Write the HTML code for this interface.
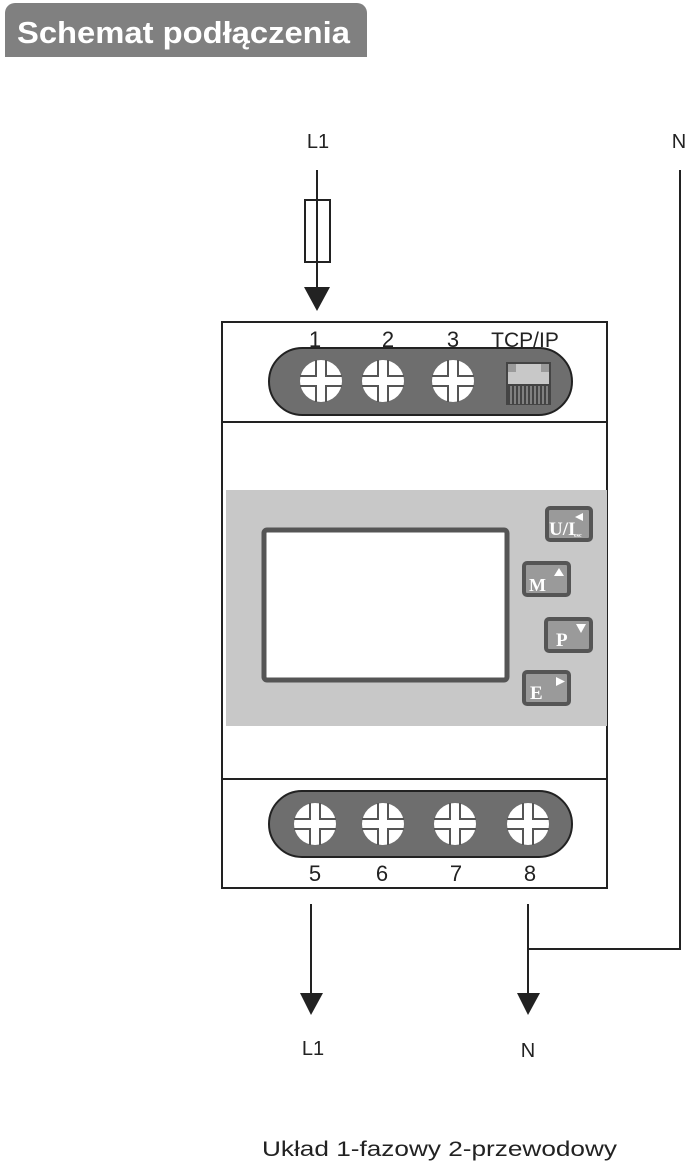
<!DOCTYPE html>
<html><head><meta charset="utf-8"><style>body{margin:0;background:#fff}svg{display:block}</style></head><body>
<svg width="700" height="1170" viewBox="0 0 700 1170" xmlns="http://www.w3.org/2000/svg" font-family="Liberation Sans, sans-serif">
<defs>
<g id="sc">
<circle r="21" fill="#fff"/>
<path d="M5,-21V-5H21M-5,-21V-5H-21M5,21V5H21M-5,21V5H-21" fill="none" stroke="#555" stroke-width="2"/>
</g>
</defs>
<path d="M5,57V13a10,10 0 0 1 10,-10H357a10,10 0 0 1 10,10V57Z" fill="#808080"/>
<text x="17" y="43" font-size="31" font-weight="bold" fill="#fff" textLength="333" lengthAdjust="spacingAndGlyphs">Schemat podłączenia</text>

<text x="318" y="148" font-size="20" text-anchor="middle" fill="#222">L1</text>
<text x="679" y="148" font-size="20" text-anchor="middle" fill="#222">N</text>
<line x1="317" y1="170" x2="317" y2="290" stroke="#222" stroke-width="2"/>
<rect x="305" y="200" width="25" height="62" fill="none" stroke="#222" stroke-width="2"/>
<polygon points="304,287 330,287 317,311" fill="#222"/>
<polyline points="680,170 680,949 528,949" fill="none" stroke="#222" stroke-width="2"/>

<rect x="222" y="322" width="385" height="566" fill="#fff" stroke="#222" stroke-width="2"/>
<line x1="222" y1="422" x2="607" y2="422" stroke="#222" stroke-width="2"/>
<line x1="222" y1="779" x2="607" y2="779" stroke="#222" stroke-width="2"/>
<rect x="226" y="490" width="381" height="236" fill="#c8c8c8"/>
<rect x="264" y="530" width="243" height="150" fill="#fff" stroke="#555" stroke-width="5" rx="3"/>

<g font-size="22" text-anchor="middle" fill="#222">
<text x="315" y="347">1</text><text x="388" y="347">2</text><text x="453" y="347">3</text><text x="525" y="347" font-size="21">TCP/IP</text>
<text x="315" y="881">5</text><text x="382" y="881">6</text><text x="456" y="881">7</text><text x="530" y="881">8</text>
</g>

<rect x="269" y="348" width="303" height="67" rx="33.5" fill="#6e6e6e" stroke="#222" stroke-width="2"/>
<use href="#sc" x="321" y="381"/><use href="#sc" x="383" y="381"/><use href="#sc" x="453" y="381"/>
<rect x="506" y="362" width="45" height="43" fill="#444"/>
<path d="M508,364h41v20h-41z" fill="#c8c8c8"/>
<path d="M508,364h8v8h-8zM541,364h8v8h-8z" fill="#444" opacity="0.35"/>
<g stroke="#bbb" stroke-width="1"><path d="M511,386V404M515,386V404M519,386V404M523,386V404M527,386V404M531,386V404M535,386V404M539,386V404M543,386V404M547,386V404"/></g>

<rect x="269" y="791" width="303" height="66" rx="33" fill="#6e6e6e" stroke="#222" stroke-width="2"/>
<use href="#sc" x="315" y="824"/><use href="#sc" x="383" y="824"/><use href="#sc" x="455" y="824"/><use href="#sc" x="528" y="824"/>

<g fill="#9a9a9a" stroke="#555" stroke-width="4">
<rect x="547" y="508" width="44" height="32" rx="3"/>
<rect x="524" y="563" width="45" height="32" rx="3"/>
<rect x="546" y="619" width="45" height="32" rx="3"/>
<rect x="524" y="672" width="45" height="32" rx="3"/>
</g>
<g fill="#fff" font-family="Liberation Serif, serif" font-weight="bold">
<text x="549" y="535" font-size="19">U/I</text><text x="574" y="537" font-size="6">esc</text>
<polygon points="583,513 583,521 575,517"/>
<text x="529" y="591" font-size="18">M</text><polygon points="554,576 564,576 559,568"/>
<text x="556" y="646" font-size="19">P</text><polygon points="576,624 586,624 581,633"/>
<text x="530" y="699" font-size="19">E</text><polygon points="556,677 556,686 565,681.5"/>
</g>

<line x1="311" y1="904" x2="311" y2="995" stroke="#222" stroke-width="2"/>
<polygon points="300,993 323,993 311,1015" fill="#222"/>
<line x1="528" y1="904" x2="528" y2="995" stroke="#222" stroke-width="2"/>
<polygon points="517,993 540,993 528,1015" fill="#222"/>
<text x="313" y="1055" font-size="20" text-anchor="middle" fill="#222">L1</text>
<text x="528" y="1057" font-size="20" text-anchor="middle" fill="#222">N</text>
<text x="262" y="1156" font-size="21" fill="#222" textLength="355" lengthAdjust="spacingAndGlyphs">Układ 1-fazowy 2-przewodowy</text>
</svg>
</body></html>
